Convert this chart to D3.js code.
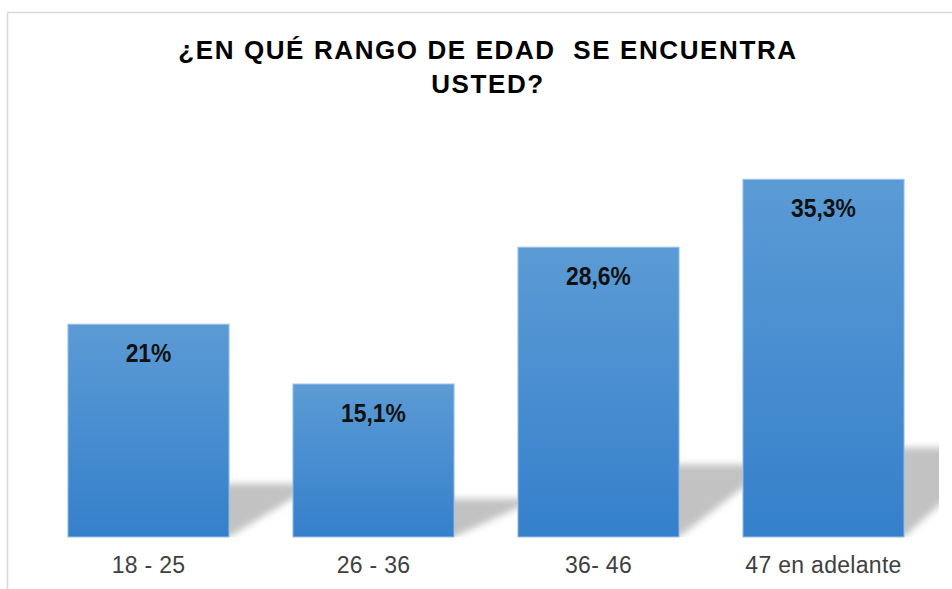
<!DOCTYPE html>
<html>
<head>
<meta charset="utf-8">
<script src="https://cdn.jsdelivr.net/npm/d3@7"></script>
<style>
  body { margin: 0; background: #fff; }
  svg { display: block; font-family: "Liberation Sans", Arial, sans-serif; }
  .title { font-size: 26px; font-weight: bold; fill: #000; letter-spacing: 1.6px; white-space: pre; }
  .value { font-size: 26px; font-weight: bold; fill: #111; }
  .cat { font-size: 23px; fill: #404040; letter-spacing: 0.3px; }
</style>
</head>
<body>
<svg width="952" height="589"></svg>
<script>
// chart data
const categories = ['18 - 25', '26 - 36', '36- 46', '47 en adelante'];
const values = [21, 15.1, 28.6, 35.3];
const valueLabels = ['21%', '15,1%', '28,6%', '35,3%'];
const titleLines = ['¿EN QUÉ RANGO DE EDAD  SE ENCUENTRA', 'USTED?'];

const data = categories.map((c, i) => ({ cat: c, value: values[i], label: valueLabels[i] }));

const svg = d3.select('svg');
const baseY = 537;

// outer frame (cut off at right and bottom like the screenshot)
svg.append('rect')
   .attr('x', 7.5)
   .attr('y', 12.5)
   .attr('width', 1000)
   .attr('height', 700)
   .attr('fill', '#fff')
   .attr('stroke', '#d9d9d9')
   .attr('stroke-width', 1.5);

const xScale = d3.scaleBand()
                 .range([36, 936])
                 .domain(categories)
                 .paddingInner(0.284)
                 .paddingOuter(0.142);

const yScale = d3.scaleLinear()
                 .range([baseY, baseY - 405.3])
                 .domain([0, 40]);

const defs = svg.append('defs');

const grad = defs.append('linearGradient')
                 .attr('id', 'barGrad')
                 .attr('x1', 0).attr('y1', 0)
                 .attr('x2', 0).attr('y2', 1);
grad.append('stop').attr('offset', '0%').attr('stop-color', '#5b9bd5');
grad.append('stop').attr('offset', '100%').attr('stop-color', '#3580cb');

defs.append('filter')
    .attr('id', 'blur')
    .attr('x', '-30%').attr('y', '-30%')
    .attr('width', '160%').attr('height', '160%')
    .append('feGaussianBlur')
    .attr('stdDeviation', 3.5);

defs.append('clipPath')
    .attr('id', 'plotClip')
    .append('rect')
    .attr('x', 9).attr('y', 14)
    .attr('width', 930).attr('height', baseY - 14);

// perspective shadows behind the bars
svg.append('g')
   .attr('clip-path', 'url(#plotClip)')
   .selectAll('polygon')
   .data(data)
   .enter()
   .append('polygon')
   .attr('points', d => {
       const x0 = xScale(d.cat);
       const x1 = x0 + xScale.bandwidth();
       const h = (baseY - yScale(d.value)) * 0.25;
       const s = h * 0.3 + 72;
       return [[x0, baseY], [x1, baseY], [x1 + s, baseY - h], [x0 + s, baseY - h]].join(' ');
   })
   .attr('fill', '#c2c2c2')
   .attr('filter', 'url(#blur)');

const barGroups = svg.selectAll('.bar-g')
                     .data(data)
                     .enter()
                     .append('g')
                     .attr('class', 'bar-g');

barGroups.append('rect')
         .attr('x', d => xScale(d.cat))
         .attr('y', d => yScale(d.value))
         .attr('width', xScale.bandwidth())
         .attr('height', d => baseY - yScale(d.value))
         .attr('fill', 'url(#barGrad)')
         .attr('stroke', '#9cc2e8')
         .attr('stroke-width', 1);

barGroups.append('text')
         .attr('class', 'value')
         .attr('transform', d => `translate(${xScale(d.cat) + xScale.bandwidth() / 2}, ${yScale(d.value) + 38}) scale(0.88, 1)`)
         .attr('text-anchor', 'middle')
         .text(d => d.label);

barGroups.append('text')
         .attr('class', 'cat')
         .attr('x', d => xScale(d.cat) + xScale.bandwidth() / 2)
         .attr('y', 573)
         .attr('text-anchor', 'middle')
         .text(d => d.cat);

svg.selectAll('.title')
   .data(titleLines)
   .enter()
   .append('text')
   .attr('class', 'title')
   .attr('x', 488)
   .attr('y', (d, i) => 59 + i * 34)
   .attr('text-anchor', 'middle')
   .text(d => d);
</script>
</body>
</html>
